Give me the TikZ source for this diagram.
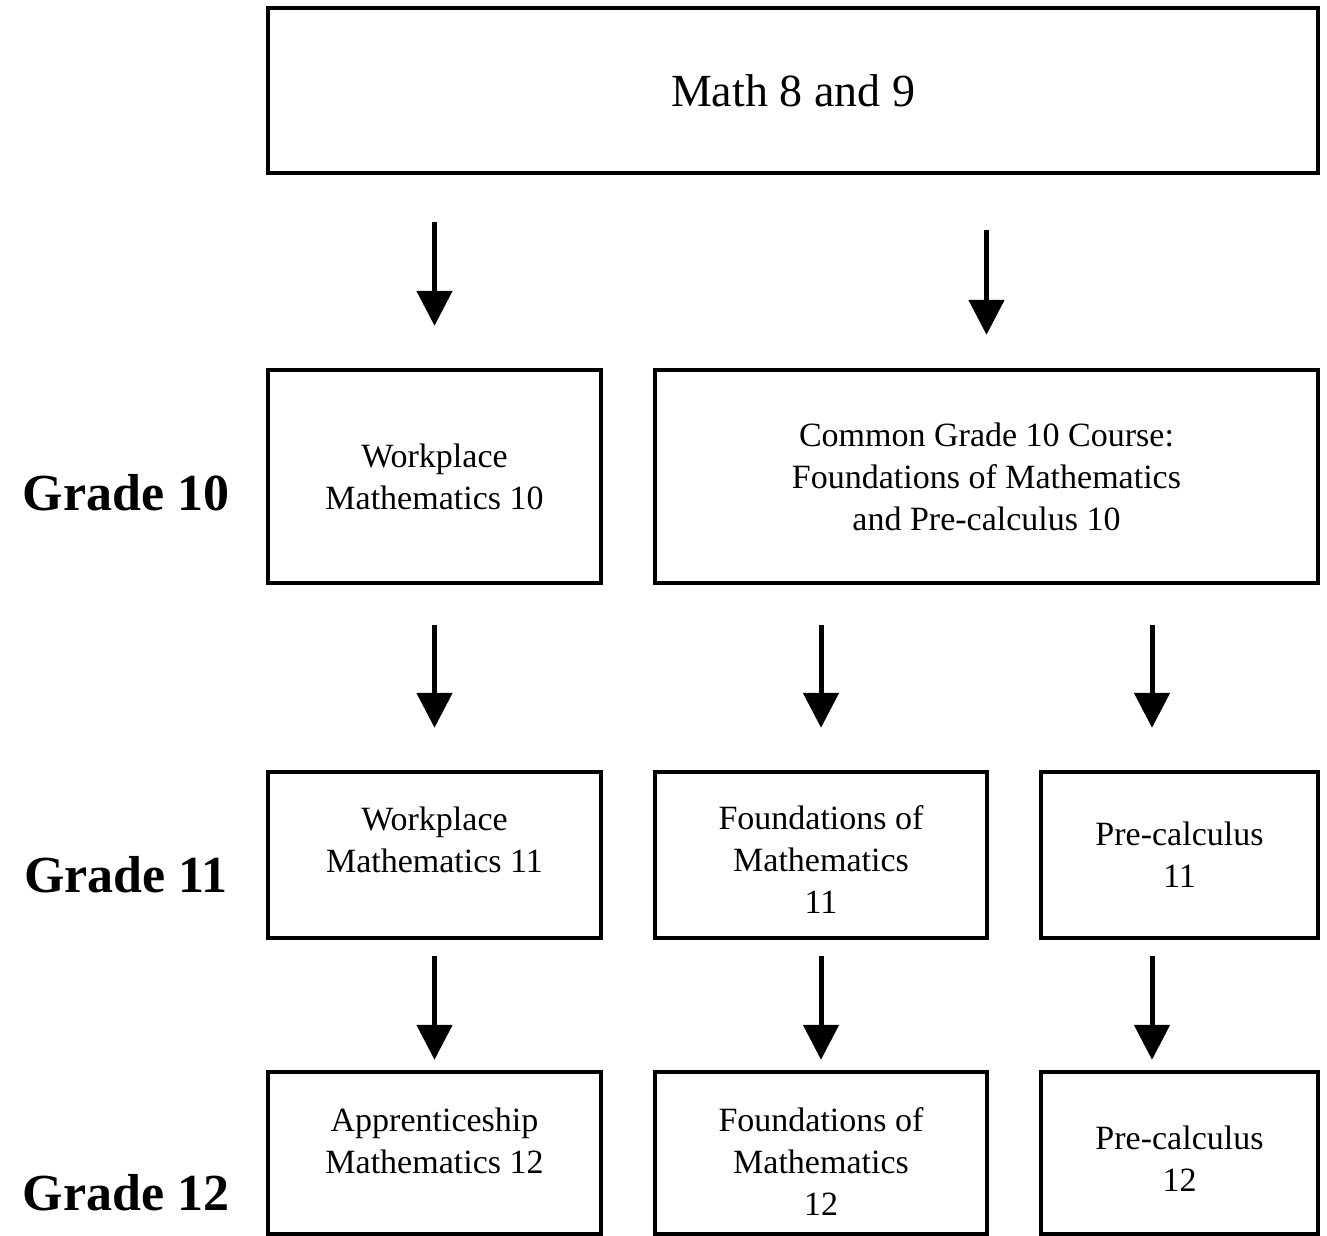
\documentclass[tikz,border=0pt]{standalone}
\usepackage{fontspec}
\setmainfont{Liberation Serif}
\usetikzlibrary{arrows.meta}

\tikzset{
  course/.style={draw, line width=2.2pt, align=center, inner sep=0pt,
    font=\fontsize{17}{21}\selectfont},
  grade/.style={font=\fontsize{26}{30}\selectfont\bfseries, anchor=base},
  flow/.style={line width=2.5pt, -{Triangle[length=17.5pt,width=17.5pt]}},
}

\begin{document}
\begin{tikzpicture}[x=0.5pt,y=-0.5pt]
\useasboundingbox (0,0) rectangle (1327,1236);
% top box
\node[course, minimum width=525pt, minimum height=82.5pt,
  font=\fontsize{23}{27}\selectfont] (math89) at (793,90.5) {Math 8 and 9};
% grade 10
\node[course, minimum width=166.5pt, minimum height=106.5pt] (work10) at (434.5,476.5)
  {Workplace\\Mathematics 10};
\node[course, minimum width=331.5pt, minimum height=106.5pt] (common10) at (986.5,476.5)
  {Common Grade 10 Course:\\Foundations of Mathematics\\and Pre-calculus 10};
% grade 11
\node[course, minimum width=166.5pt, minimum height=83pt, text depth=15pt] (work11) at (434.5,855)
  {Workplace\\Mathematics 11};
\node[course, minimum width=166pt, minimum height=83pt, text height=58.5pt] (found11) at (821,855)
  {Foundations of\\Mathematics\\11};
\node[course, minimum width=138.5pt, minimum height=83pt] (pre11) at (1179.5,855)
  {Pre-calculus\\11};
% grade 12
\node[course, minimum width=166.5pt, minimum height=81pt, text depth=12pt] (app12) at (434.5,1153)
  {Apprenticeship\\Mathematics 12};
\node[course, minimum width=166pt, minimum height=81pt, text height=62.5pt] (found12) at (821,1153)
  {Foundations of\\Mathematics\\12};
\node[course, minimum width=138.5pt, minimum height=81pt, text height=38.5pt] (pre12) at (1179.5,1153)
  {Pre-calculus\\12};
% row labels
\node[grade] (g10) at (126,510) {Grade 10};
\node[grade] (g11) at (126,892) {Grade 11};
\node[grade] (g12) at (126,1210) {Grade 12};
% arrows
\coordinate (pre11in) at ([xshift=-13.75pt]pre11.north);
\coordinate (pre12in) at ([xshift=-13.75pt]pre12.north);
\draw[flow, shorten <=23.5pt, shorten >=21pt] (math89.south -| work10.north) -- (work10.north);
\draw[flow, shorten <=27.5pt, shorten >=16.5pt] (math89.south -| common10.north) -- (common10.north);
\draw[flow, shorten <=20pt, shorten >=21pt] (work10.south) -- (work11.north);
\draw[flow, shorten <=20pt, shorten >=21pt] (common10.south -| found11.north) -- (found11.north);
\draw[flow, shorten <=20pt, shorten >=21pt] (common10.south -| pre11in) -- (pre11in);
\draw[flow, shorten <=8pt, shorten >=5pt] (work11.south) -- (app12.north);
\draw[flow, shorten <=8pt, shorten >=5pt] (found11.south) -- (found12.north);
\draw[flow, shorten <=8pt, shorten >=5pt] (pre11.south -| pre12in) -- (pre12in);
\end{tikzpicture}
\end{document}
